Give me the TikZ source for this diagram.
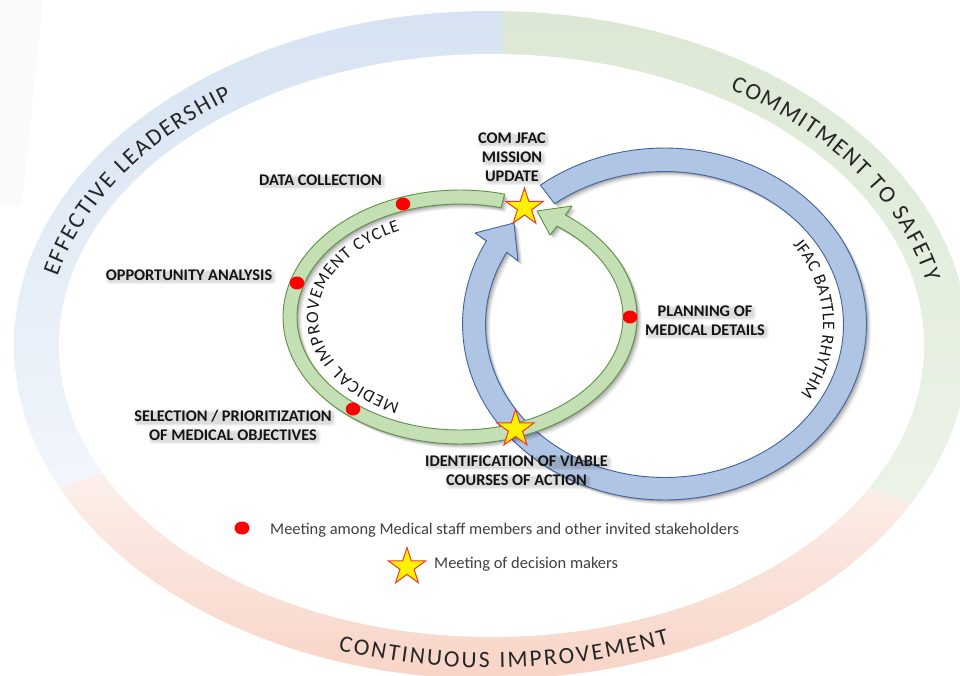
\documentclass[tikz,border=0pt]{standalone}
\usepackage{fontspec}
\setmainfont{Carlito}
\usetikzlibrary{shapes.geometric,decorations.text}
\definecolor{ringgreen}{HTML}{C5DFB4}
\definecolor{edgegreen}{HTML}{5F9046}
\definecolor{ringblue}{HTML}{B0C4E4}
\definecolor{edgeblue}{HTML}{3F64A0}
\definecolor{starline}{HTML}{F03A20}
\definecolor{legendtext}{HTML}{404040}
\definecolor{faintshape}{HTML}{FAFAFC}
\newcommand{\lblfont}{\fontsize{16.3}{19}\selectfont\bfseries}
\newcommand{\bandfont}{\fontsize{23.5}{28}\selectfont\color{black!85}}
\newcommand{\ringfont}{\fontsize{17.5}{21}\selectfont\color{black!90}}
\newcommand{\greenpath}{plot[domain=75.4:413.5,samples=140] ({460+177*cos(\x)},{317-127*sin(\x)}) -- (572,206) -- (537,211) -- (550,235) -- plot[domain=413.5:75.4,samples=140] ({460+163*cos(\x)},{317-113*sin(\x)}) -- cycle}
\newcommand{\bluepath}{plot[domain=127.9:-208.2,samples=140] ({664.5+202*cos(\x)},{324-176*sin(\x)}) -- (475,233) -- (514,223) -- (518,261) -- plot[domain=-208.2:127.9,samples=140] ({664.5+179*cos(\x)},{324.5-153*sin(\x)}) -- cycle}
% soft shadow of one line of a label: an empty box, no text is set
\newcommand{\haze}[2]{%
  \foreach \ins/\op in {2/.035,1/.045,0/.06}{
    \node[fill=black,opacity=\op,rounded corners=3pt,inner sep=\ins pt,font=\lblfont] at ([xshift=2pt,yshift=-2pt]#1) {\phantom{#2}};}}
\newcommand{\ringshadow}[1]{%
  \foreach \s/\op in {1/.10,2/.10,3/.08,4/.06,5/.04}{
    \fill[black,opacity=\op,shift={(\s,\s)}] #1;}}
\tikzset{
  lbltext/.style={align=center,font=\lblfont,inner sep=0pt,text=black!92},
  meetdot/.style={ellipse,fill=red,inner sep=0pt,minimum width=14.5pt,minimum height=13pt},
  meetstar/.style={star,star points=5,star point ratio=2.618,minimum size=39pt,inner sep=0pt,draw=starline,fill=yellow,line width=1pt},
  legendlabel/.style={anchor=west,inner sep=0pt,text=legendtext,font=\fontsize{16.45}{19}\selectfont}
}
\begin{document}
\begin{tikzpicture}[x=1pt,y=-1pt]
\useasboundingbox (0,0) rectangle (960,676);
% faint shape at the top left
\fill[faintshape] (43,0) -- (22,205) -- (0,205) -- (0,0) -- cycle;
% outer band
\begin{scope}
  \clip (491,345) ellipse [x radius=477,y radius=334];
  \begin{scope}
    \clip (503,-5) -- (503,345) -- (102,473) -- (40,494) -- (-10,494) -- (-10,-5) -- cycle;
    \shade[top color={rgb,255:red,214;green,227;blue,242},bottom color={rgb,255:red,242;green,246;blue,252}] (-10,11) rectangle (510,490);
  \end{scope}
  \begin{scope}
    \clip (503,-5) -- (970,-5) -- (970,525) -- (912,503) -- (868,488) -- (503,345) -- cycle;
    \shade[top color={rgb,255:red,220;green,232;blue,212},bottom color={rgb,255:red,236;green,244;blue,232}] (500,11) rectangle (975,530);
  \end{scope}
  \begin{scope}
    \clip (-10,494) -- (40,494) -- (102,473) -- (503,345) -- (868,488) -- (912,503) -- (970,525) -- (970,690) -- (-10,690) -- cycle;
    \shade[top color={rgb,255:red,252;green,241;blue,237},middle color={rgb,255:red,251;green,238;blue,233},bottom color={rgb,255:red,248;green,212;blue,198}] (-10,460) rectangle (975,680);
  \end{scope}
\end{scope}
\fill[white] (491.5,345.5) ellipse [x radius=432.5,y radius=291.5];
% band captions
\path[decorate,decoration={text along path,text={|\bandfont|EFFECTIVE LEADERSHIP},text align={fit to path}}]
  plot[domain=167:125.6,samples=80] ({491+445*cos(\x)},{345-303*sin(\x)});
\path[decorate,decoration={text along path,text={|\bandfont|COMMITMENT TO SAFETY},text align={fit to path}}]
  plot[domain=57.5:12,samples=80] ({491+445*cos(\x)},{345-303*sin(\x)});
\path[decorate,decoration={text along path,text={|\bandfont|CONTINUOUS IMPROVEMENT},text align={fit to path}}]
  plot[domain=250.8:292.6,samples=80] ({491+465*cos(\x)},{345-323*sin(\x)});
% rings
\ringshadow{\bluepath}
\draw[edgeblue,fill=ringblue,line width=.9pt,line join=round] \bluepath;
\ringshadow{\greenpath}
\draw[edgegreen,fill=ringgreen,line width=.9pt,line join=round] \greenpath;
% ring captions
\path[decorate,decoration={text along path,text={|\ringfont|MEDICAL IMPROVEMENT CYCLE},text align={fit to path}}]
  plot[domain=245:115,samples=80] ({460+142*cos(\x)},{317-95*sin(\x)});
\path[decorate,decoration={text along path,text={|\ringfont|JFAC BATTLE RHYTHM},text align={fit to path}}]
  plot[domain=36:-31,samples=80] ({664.5+158.5*cos(\x)},{324.5-136*sin(\x)});
% meetings
\node[meetdot] (dA) at (403,204) {};
\node[meetdot] (dB) at (297,283) {};
\node[meetdot] (dC) at (353,409) {};
\node[meetdot] (dD) at (630,317) {};
\node[meetstar] (sA) at (524.5,207.5) {};
\node[meetstar] (sB) at (515.5,429) {};
% label shadows
\haze{320.5,180}{DATA COLLECTION}
\haze{189,275}{OPPORTUNITY ANALYSIS}
\haze{233,416}{SELECTION / PRIORITIZATION}
\haze{233,435}{OF MEDICAL OBJECTIVES}
\haze{516.5,461}{IDENTIFICATION OF VIABLE}
\haze{516.5,480}{COURSES OF ACTION}
\haze{705,311}{PLANNING OF}
\haze{705,330}{MEDICAL DETAILS}
\haze{512,138}{COM JFAC}
\haze{512,157}{MISSION}
\haze{512,176}{UPDATE}
% labels
\node[lbltext] (lA) at (320.5,180) {DATA COLLECTION};
\node[lbltext] (lB) at (189,275) {OPPORTUNITY ANALYSIS};
\node[lbltext] (lC) at (233,425.5) {SELECTION / PRIORITIZATION\\OF MEDICAL OBJECTIVES};
\node[lbltext] (lD) at (516.5,470.5) {IDENTIFICATION OF VIABLE\\COURSES OF ACTION};
\node[lbltext] (lE) at (705,320.5) {PLANNING OF\\MEDICAL DETAILS};
\node[lbltext] (lF) at (512,157) {COM JFAC\\MISSION\\UPDATE};
% legend
\node[meetdot,minimum width=15pt] (kA) at (242,528) {};
\node[legendlabel] (kAt) at (270,530) {Meeting among Medical staff members and other invited stakeholders};
\node[meetstar] (kB) at (407,567) {};
\node[legendlabel] (kBt) at (434,564.5) {Meeting of decision makers};
\end{tikzpicture}
\end{document}
